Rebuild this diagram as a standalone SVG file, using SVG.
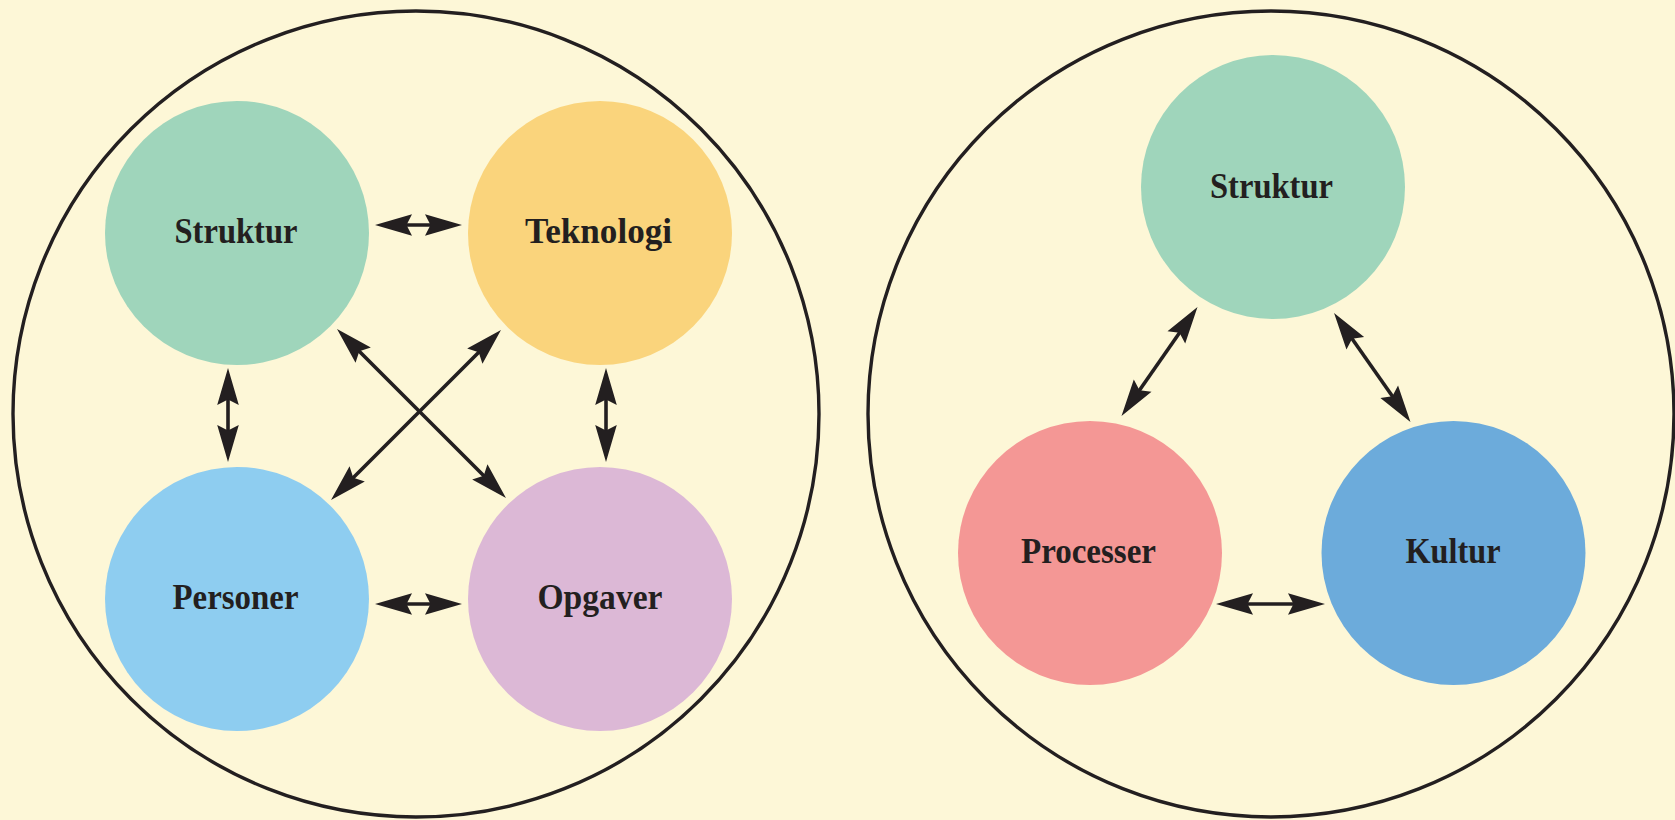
<svg xmlns="http://www.w3.org/2000/svg" width="1675" height="820" viewBox="0 0 1675 820">
<style>
.frame{fill:none;stroke:#231f20;stroke-width:3.4}
.lbl{font-family:"Liberation Serif","DejaVu Serif",serif;font-weight:bold;font-size:36px;fill:#231f20;text-anchor:middle}
.conn line{stroke:#231f20;stroke-width:3.6;marker-start:url(#ah);marker-end:url(#ah)}
</style>
<defs>
<marker id="ah" markerUnits="userSpaceOnUse" orient="auto-start-reverse" refX="0" refY="0" markerWidth="60" markerHeight="30" viewBox="-20 -15 60 30" overflow="visible">
<path d="M25,0 L-12,-10.8 L-6.5,0 L-12,10.8 Z" fill="#231f20"/>
</marker>
</defs>
<rect width="1675" height="820" fill="#fdf7d7"/>
<g id="frame-left"><circle class="frame" cx="416" cy="414" r="403"/></g>
<g id="frame-right"><circle class="frame" cx="1271" cy="414" r="403"/></g>
<g id="node-struktur-l"><circle cx="237" cy="233" r="132" fill="#9fd5bb"/><text class="lbl" x="236" y="243" textLength="123" lengthAdjust="spacingAndGlyphs">Struktur</text></g>
<g id="node-teknologi"><circle cx="600" cy="233" r="132" fill="#fad47c"/><text class="lbl" x="598.5" y="243" textLength="147" lengthAdjust="spacingAndGlyphs">Teknologi</text></g>
<g id="node-personer"><circle cx="237" cy="599" r="132" fill="#8ecdf0"/><text class="lbl" x="235.5" y="609" textLength="126" lengthAdjust="spacingAndGlyphs">Personer</text></g>
<g id="node-opgaver"><circle cx="600" cy="599" r="132" fill="#dcb8d6"/><text class="lbl" x="600" y="609" textLength="125" lengthAdjust="spacingAndGlyphs">Opgaver</text></g>
<g id="node-struktur-r"><circle cx="1273" cy="187" r="132" fill="#9fd5bb"/><text class="lbl" x="1271.5" y="198" textLength="123" lengthAdjust="spacingAndGlyphs">Struktur</text></g>
<g id="node-processer"><circle cx="1090" cy="553" r="132" fill="#f49795"/><text class="lbl" x="1088.5" y="563" textLength="135" lengthAdjust="spacingAndGlyphs">Processer</text></g>
<g id="node-kultur"><circle cx="1453.5" cy="553" r="132" fill="#6cabdb"/><text class="lbl" x="1453" y="563" textLength="95" lengthAdjust="spacingAndGlyphs">Kultur</text></g>
<g id="connectors" class="conn">
<line x1="400" y1="225" x2="437" y2="225"/>
<line x1="400" y1="604" x2="437" y2="604"/>
<line x1="228" y1="393" x2="228" y2="437"/>
<line x1="606" y1="393" x2="606" y2="437"/>
<line x1="354.7" y1="346.7" x2="488.3" y2="480.3"/>
<line x1="483.3" y1="347.7" x2="348.7" y2="482.3"/>
<line x1="1183.2" y1="327.5" x2="1135.8" y2="395.5"/>
<line x1="1348.4" y1="333.5" x2="1396.1" y2="401.5"/>
<line x1="1241" y1="604" x2="1300" y2="604"/>
</g>
</svg>
